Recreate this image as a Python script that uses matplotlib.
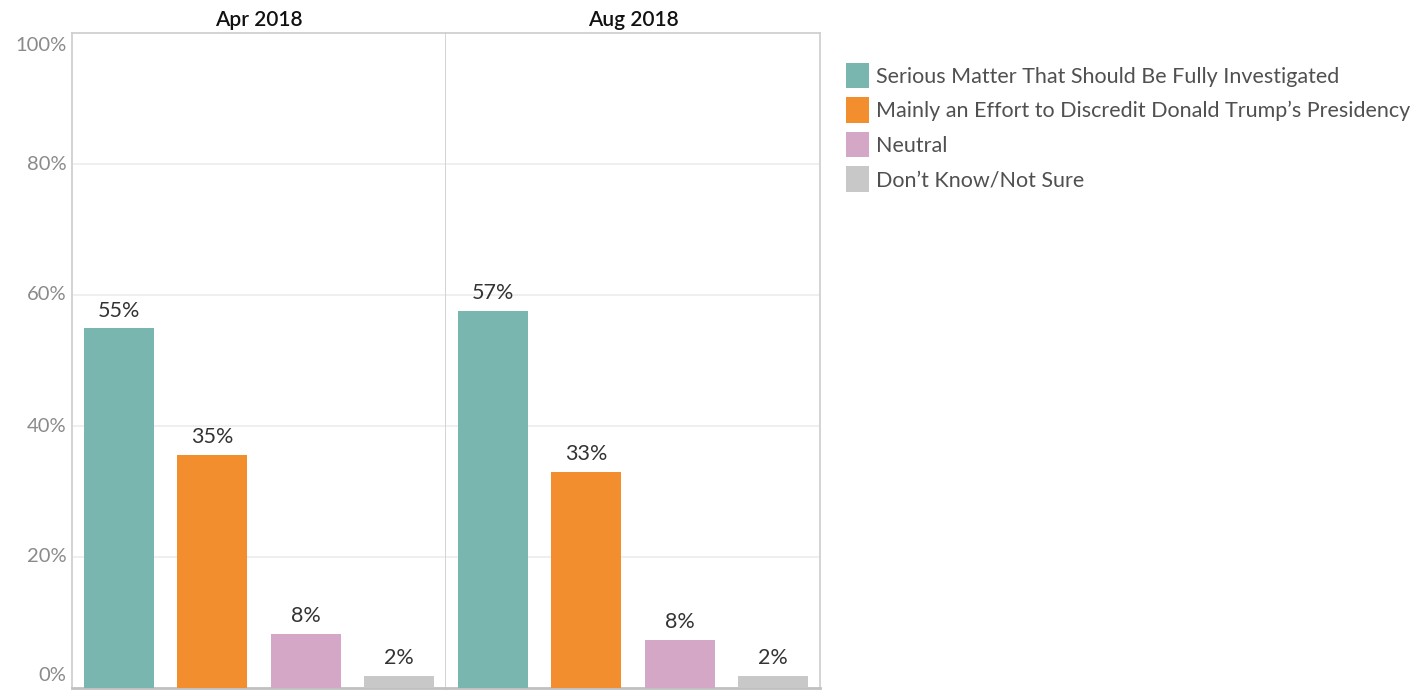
import matplotlib.pyplot as plt
import numpy as np
from matplotlib.patches import Patch

plt.rcParams['font.family'] = ['Lato', 'DejaVu Sans']

# data
periods = ['Apr 2018', 'Aug 2018']
responses = ['Serious Matter That Should Be Fully Investigated',
             'Mainly an Effort to Discredit Donald Trump\u2019s Presidency',
             'Neutral',
             'Don\u2019t Know/Not Sure']
apr_values = [54.9, 35.6, 8.3, 1.8]
aug_values = [57.6, 33.0, 7.4, 1.8]
apr_labels = ['55%', '35%', '8%', '2%']
aug_labels = ['57%', '33%', '8%', '2%']
colors = ['#79b6b0', '#f28e2d', '#d4a7c7', '#c8c8c8']
yticks = [0, 20, 40, 60, 80, 100]

fig = plt.figure(figsize=(14.26, 6.91), dpi=100)
W, H = 1426, 691
left, top, bottom, panel_w = 72, 33, 688, 374

all_values = [apr_values, aug_values]
all_labels = [apr_labels, aug_labels]
x = np.arange(len(responses))

for i, period in enumerate(periods):
    ax = fig.add_axes([(left + i * panel_w) / W, (H - bottom) / H,
                       panel_w / W, (bottom - top) / H])
    ax.bar(x, all_values[i], width=0.75, color=colors, zorder=3)
    for xi, v, lab in zip(x, all_values[i], all_labels[i]):
        ax.text(xi, v + 1.2, lab, ha='center', va='bottom',
                fontsize=15.5, color='#333333', zorder=4)
    ax.set_xlim(-0.5, len(responses) - 0.5)
    ax.set_ylim(0, 100)
    ax.set_xticks([])
    ax.set_yticks([20, 40, 60, 80])
    ax.grid(axis='y', color='#ececec', linewidth=1.2, zorder=0)
    ax.tick_params(axis='y', length=0, labelleft=False)
    for s in ax.spines.values():
        s.set_color('#d0d0d0')
        s.set_linewidth(1.3)
    ax.spines['bottom'].set_color('#c0c0c0')
    ax.spines['bottom'].set_linewidth(2)
    if i > 0:
        ax.spines['left'].set_visible(False)
    ax.set_title(period, fontsize=15, fontweight='semibold', color='#111111', pad=5)
    if i == 0:
        for t in yticks:
            off = 0
            if t == 0:
                off = 1.9
            elif t == 100:
                off = -1.9
            ax.text(-0.015, t + off, '%d%%' % t, transform=ax.get_yaxis_transform(),
                    ha='right', va='center', fontsize=14.5, color='#8a8a8a')

handles = [Patch(facecolor=c, edgecolor='none') for c in colors]
fig.legend(handles, responses, loc='upper left', bbox_to_anchor=(837 / W, 1 - 54 / H),
           frameon=False, fontsize=15.5, labelcolor='#505050',
           handlelength=1.1, handleheight=1.45, handletextpad=0.3,
           labelspacing=0.42, borderaxespad=0)

fig.savefig('out.png', dpi=100)
